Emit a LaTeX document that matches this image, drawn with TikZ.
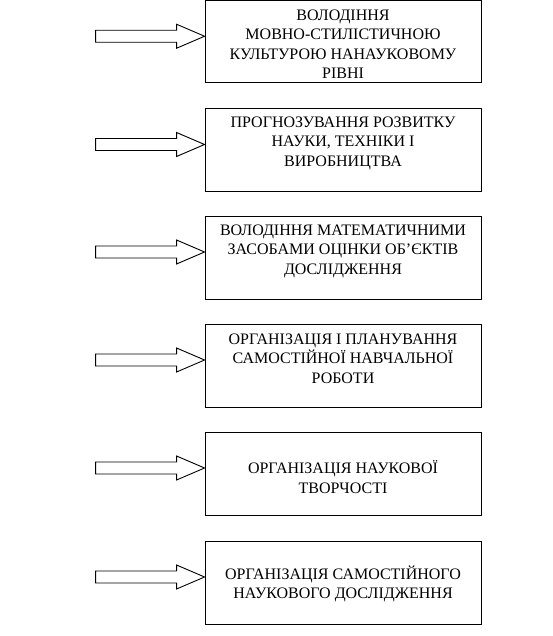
\documentclass[tikz,border=0pt]{standalone}
\usepackage{fontspec}
\setmainfont{Liberation Serif}
\usetikzlibrary{calc}
\begin{document}
\begin{tikzpicture}[x=1pt,y=-1pt,
  box/.style={draw,line width=0.9pt,minimum width=276pt,minimum height=83pt,inner sep=0pt},
  txt/.style={align=center,font=\fontsize{16}{19.5}\selectfont,inner sep=0pt},
  barrow/.style={draw,line width=0.9pt,fill=white}]
\useasboundingbox (0,0) rectangle (552,636);
\node[box,minimum height=82pt] (b1) at (343,41.75) {};
\node[box] (b2) at (343,150) {};
\node[box] (b3) at (343,257.5) {};
\node[box] (b4) at (343,365.5) {};
\node[box] (b5) at (343,473.5) {};
\node[box] (b6) at (343,582.5) {};
\node[txt] (t1) at (343,44) {ВОЛОДІННЯ\\МОВНО-СТИЛІСТИЧНОЮ\\КУЛЬТУРОЮ НАНАУКОВОМУ\\РІВНІ};
\node[txt] (t2) at (343,143) {ПРОГНОЗУВАННЯ РОЗВИТКУ\\НАУКИ, ТЕХНІКИ І\\ВИРОБНИЦТВА};
\node[txt] (t3) at (343,251) {ВОЛОДІННЯ МАТЕМАТИЧНИМИ\\ЗАСОБАМИ ОЦІНКИ ОБ’ЄКТІВ\\ДОСЛІДЖЕННЯ};
\node[txt] (t4) at (343,358.5) {ОРГАНІЗАЦІЯ І ПЛАНУВАННЯ\\САМОСТІЙНОЇ НАВЧАЛЬНОЇ\\РОБОТИ};
\node[txt] (t5) at (343,477) {ОРГАНІЗАЦІЯ НАУКОВОЇ\\ТВОРЧОСТІ};
\node[txt] (t6) at (343,584) {ОРГАНІЗАЦІЯ САМОСТІЙНОГО\\НАУКОВОГО ДОСЛІДЖЕННЯ};
\foreach \i in {1,...,6}{
  \coordinate (a\i) at ($(b\i.west)+(0,-5.5)$);
  \draw[barrow] (a\i) -- ++(-28,-12) -- ++(0,6) -- ++(-81,0) -- ++(0,12) -- ++(81,0) -- ++(0,6) -- cycle;
}
\end{tikzpicture}
\end{document}
